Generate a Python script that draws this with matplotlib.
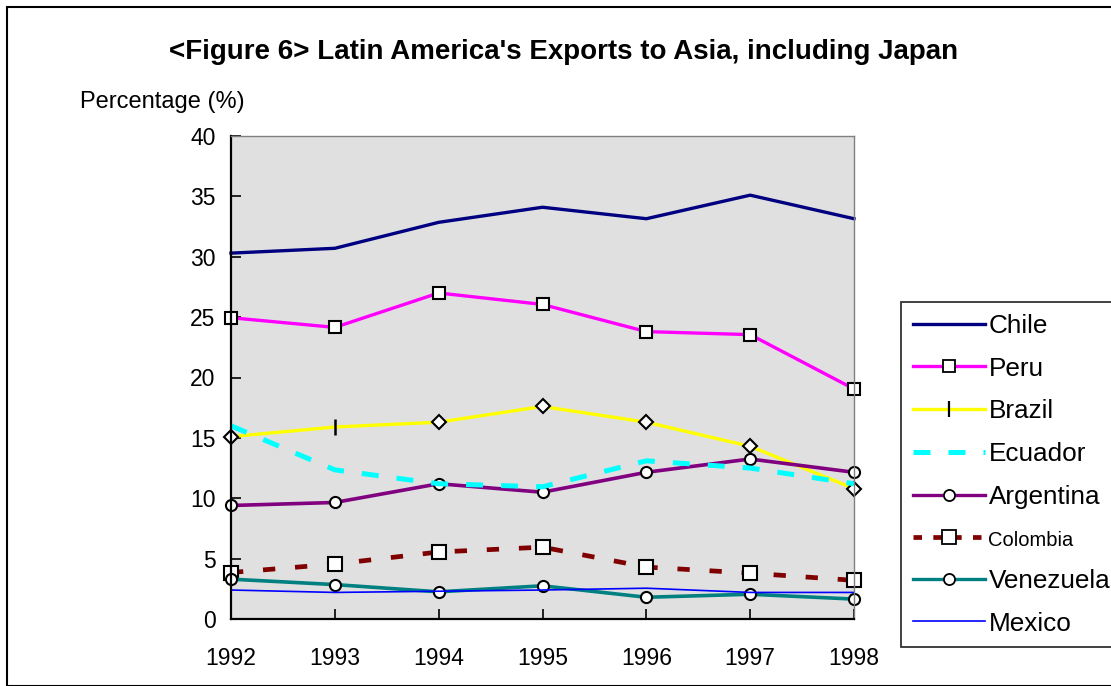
import matplotlib
matplotlib.use("Agg")
import matplotlib.pyplot as plt
from matplotlib.lines import Line2D
from matplotlib.patches import Rectangle

plt.rcParams['font.family'] = ['Liberation Sans', 'DejaVu Sans']

years = [1992, 1993, 1994, 1995, 1996, 1997, 1998]

chile = [30.3, 30.7, 32.85, 34.1, 33.15, 35.1, 33.15]
peru = [24.95, 24.15, 27.0, 26.05, 23.8, 23.55, 19.05]
brazil = [15.1, 15.9, 16.3, 17.6, 16.3, 14.3, 10.8]
ecuador = [16.0, 12.35, 11.2, 10.95, 13.1, 12.5, 11.2]
argentina = [9.4, 9.65, 11.2, 10.5, 12.15, 13.25, 12.15]
colombia = [3.85, 4.55, 5.55, 5.95, 4.3, 3.8, 3.2]
venezuela = [3.3, 2.85, 2.25, 2.75, 1.8, 2.05, 1.65]
mexico = [2.4, 2.2, 2.3, 2.4, 2.55, 2.2, 2.2]

fig = plt.figure(figsize=(11.11, 6.86), dpi=100)
ax = fig.add_axes([231 / 1111, 1 - 619 / 686, (854 - 231) / 1111, (619 - 136) / 686])
ax.set_facecolor('#E0E0E0')

mk = dict(markerfacecolor='white', markeredgecolor='black', markeredgewidth=1.5, clip_on=False)

ax.plot(years, chile, color='#000080', lw=2.4, clip_on=False)
ax.plot(years, peru, color='#FF00FF', lw=2.4, marker='s', ms=9, **mk)
ax.plot(years, brazil, color='#FFFF00', lw=2.4, marker='D', ms=7.5,
        markevery=[0, 2, 3, 4, 5, 6], **mk)
ax.plot(years[1], brazil[1], linestyle='none', marker='|', ms=12,
        markeredgecolor='black', markeredgewidth=1.8)
ax.plot(years, argentina, color='#800080', lw=2.6, marker='o', ms=8, **mk)
ax.plot(years, ecuador, color='#00FFFF', lw=3.6, dashes=(3.4, 3.6), clip_on=False)
ax.plot(years, colombia, color='#800000', lw=3.4, dashes=(2.6, 4.2),
        marker='s', ms=10, **mk)
ax.plot(years, venezuela, color='#008080', lw=2.6, marker='o', ms=8, **mk)
ax.plot(years, mexico, color='#0000FF', lw=1.2, clip_on=False)

ax.set_xlim(1992, 1998)
ax.set_ylim(0, 40)
ax.set_xticks(years)
ax.set_yticks(range(0, 41, 5))
ax.tick_params(direction='in', length=7, width=1.2, labelsize=16.5)
ax.tick_params(axis='x', pad=20)
ax.tick_params(axis='y', pad=11)
for s in ['left', 'bottom']:
    ax.spines[s].set_linewidth(1.6)
for s in ['top', 'right']:
    ax.spines[s].set_color('#808080')
    ax.spines[s].set_linewidth(1.0)

fig.text(0.507, 1 - 52 / 686, "<Figure 6> Latin America's Exports to Asia, including Japan",
         ha='center', va='center', fontsize=20, fontweight='bold')
fig.text(80 / 1111, 1 - 102 / 686, 'Percentage (%)', ha='left', va='center', fontsize=17)

handles = [
    Line2D([], [], color='#000080', lw=2.4),
    Line2D([], [], color='#FF00FF', lw=2.4, marker='s', ms=9, markerfacecolor='white',
           markeredgecolor='black', markeredgewidth=1.3),
    Line2D([], [], color='#FFFF00', lw=2.4, marker='|', ms=11, markeredgecolor='black',
           markeredgewidth=1.6),
    Line2D([], [], color='#00FFFF', lw=3.6, dashes=(3.4, 3.6)),
    Line2D([], [], color='#800080', lw=2.4, marker='o', ms=8, markerfacecolor='white',
           markeredgecolor='black', markeredgewidth=1.3),
    Line2D([], [], color='#800000', lw=3.4, dashes=(1.8, 2.4), marker='s', ms=10,
           markerfacecolor='white', markeredgecolor='black', markeredgewidth=1.3),
    Line2D([], [], color='#008080', lw=2.4, marker='o', ms=8, markerfacecolor='white',
           markeredgecolor='black', markeredgewidth=1.3),
    Line2D([], [], color='#0000FF', lw=1.2),
]
labels = ['Chile', 'Peru', 'Brazil', 'Ecuador', 'Argentina', 'Colombia', 'Venezuela', 'Mexico']
leg = fig.legend(handles, labels, loc='upper left',
                 bbox_to_anchor=(901 / 1111, 1 - 302 / 686),
                 fontsize=18.8, frameon=True, fancybox=False, edgecolor='black',
                 handlelength=2.75, handletextpad=0.15, labelspacing=0.72,
                 borderpad=0.45, borderaxespad=0)
leg.get_frame().set_linewidth(1.3)
leg.get_texts()[5].set_fontsize(14.5)

fig.add_artist(Rectangle((7 / 1111, 0), 1.0, 1 - 7 / 686, transform=fig.transFigure,
                         fill=False, edgecolor='black', lw=1.5))

fig.savefig('out.png', dpi=100)
